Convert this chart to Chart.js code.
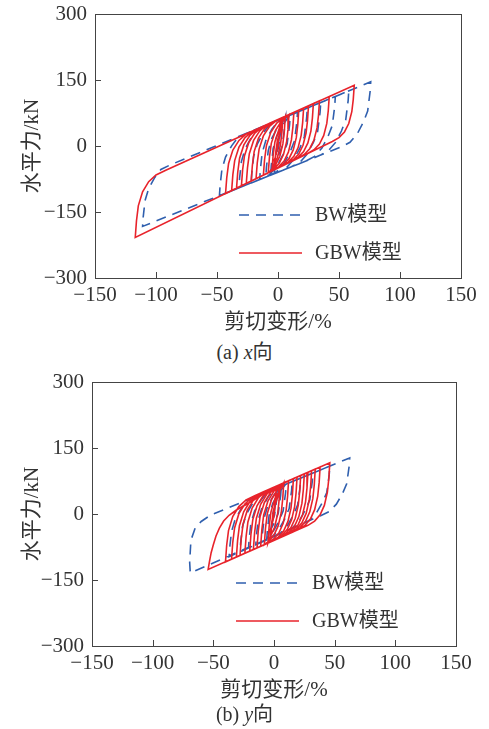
<!DOCTYPE html>
<html>
<head>
<meta charset="utf-8">
<script src="https://cdn.jsdelivr.net/npm/chart.js@4.4.0/dist/chart.umd.min.js"></script>
<style>
  body { margin: 0; background: #fff; width: 489px; height: 729px; position: relative; overflow: hidden;
         font-family: "Liberation Serif", "Noto Sans CJK SC", serif; color: #333; }
  .box { position: absolute; left: 0; width: 489px; height: 340px; }
  .cap { position: absolute; left: 0; width: 489px; text-align: center; font-size: 20px; line-height: 24px; }
</style>
</head>
<body>
<div class="box" style="top:0"><canvas id="chartX"></canvas></div>
<div class="cap" style="top:340px">(a) <i>x</i>向</div>
<div class="box" style="top:368px"><canvas id="chartY"></canvas></div>
<div class="cap" style="top:702px">(b) <i>y</i>向</div>
<script>
// ejes
const xTicks = [-150, -100, -50, 0, 50, 100, 150];
const yTicks = [-300, -150, 0, 150, 300];
const seriesNames = ['BW模型', 'GBW模型'];

// (a) x向 - GBW (rojo)
const gbwX = [[0,0],
  [2,62.5],[1.2,29.0],[0,-0.5],[-2.5,-28.7],[-3,-54.1],[-2,-18.7],[-0.5,12.4],[3,42.2],
  [4,65],[3.2,31.5],[2,2.1],[-0.5,-26.1],[-4,-46.1],[-5,-56.8],[-4,-21.4],[-2.5,9.8],[1,39.6],
  [6,67.5],[5.2,34.1],[4,4.7],[1.5,-23.4],[-2,-43.5],[-6.5,-56.8],[-8,-60.8],[-7,-25.3],[-5.5,6.0],[-2,35.8],[3,57.1],
  [9,71.3],[8.2,37.9],[7,8.6],[4.5,-19.4],[1,-39.4],[-3.5,-52.8],[-9,-62.2],[-12,-66.2],[-11,-30.6],[-9.5,0.8],[-6,30.7],[-1,52.0],[5,66.3],
  [13,76.3],[12.2,43.0],[11,13.8],[8.5,-14.1],[5,-34.1],[0.5,-47.4],[-5,-56.8],[-18,-74.3],[-17,-38.5],[-15.5,-7.1],[-12,23.0],[-7,44.4],[-1,58.7],[7,68.8],
  [17,81.3],[16.2,48.1],[15,19.0],[12.5,-8.9],[9,-28.8],[4.5,-42.0],[-1,-51.4],[-22,-79.7],[-21,-43.8],[-19.5,-12.3],[-16,17.8],[-11,39.4],[-5,53.7],[3,63.8],
  [21,86.3],[20.2,53.2],[19,24.2],[16.5,-3.6],[13,-23.4],[8.5,-36.6],[3,-46.0],[-26,-85.1],[-25,-49.1],[-23.5,-17.5],[-20,12.7],[-15,34.3],[-9,48.7],[-1,58.8],
  [25,91.3],[24.2,58.3],[23,29.4],[20.5,1.7],[17,-18.1],[12.5,-31.3],[7,-40.6],[-30,-90.5],[-29,-54.4],[-27.5,-22.7],[-24,7.6],[-19,29.2],[-13,43.7],[-5,53.8],
  [29,96.3],[28.2,63.4],[27,34.5],[24.5,6.9],[21,-12.8],[16.5,-25.9],[11,-35.2],[-34,-95.9],[-33,-59.7],[-31.5,-27.9],[-28,2.5],[-23,24.2],[-17,38.6],[-9,48.8],
  [34,102.5],[33.2,69.8],[32,41.0],[29.5,13.5],[26,-6.1],[21.5,-19.2],[16,-28.4],[-38,-101.3],[-37,-65.0],[-35.5,-33.1],[-32,-2.7],[-27,19.1],[-21,33.6],[-13,43.8],
  [42,112.5],[41.2,80.0],[40,51.4],[37.5,24.0],[34,4.5],[29.5,-8.5],[24,-17.6],[-43,-108.1],[-42,-71.7],[-40.5,-39.7],[-37,-9.1],[-32,12.7],[-26,27.3],[-18,37.5],
  [62.5,138.1],[61.7,106.1],[60.5,77.9],[58,51.1],[54.5,31.9],[50,19.1],[44.5,10.1],[-117,-208],[-116,-169.8],[-114.5,-136.1],[-111,-104],[-106,-81.1],[-100,-65.8],[-92,-55],[-20,35]];

// (a) x向 - BW (azul)
const bwX = [[0,0],
  [3,62.1],[2.5,40.4],[0.5,-3.1],[-2.5,-27.8],[-3,-62.8],[-2.5,-41.3],[-1,-2.6],[2,26.0],
  [6,65.5],[5.5,43.8],[3.5,0.3],[0,-24.4],[-5,-50.5],[-6,-66.2],[-5.5,-44.7],[-4,-6.1],[-1,22.6],[4,48.3],[9,66.9],
  [10,70.1],[9.5,48.3],[7.5,4.8],[4,-19.9],[-1,-46.0],[-7,-64.9],[-10,-70.6],[-9.5,-49.1],[-8,-10.5],[-5,18.1],[0,43.8],[5,62.4],[12,72.4],
  [16,77.0],[15.5,55.2],[13.5,11.6],[10,-13.1],[5,-39.3],[-1,-58.2],[-8,-68.4],[-15,-76.2],[-14.5,-54.8],[-13,-16.2],[-10,12.3],[-5,38.0],[0,56.6],[7,66.7],
  [24,86.2],[23.5,64.3],[21.5,20.6],[18,-4.1],[13,-30.4],[7,-49.3],[0,-59.5],[-22,-83.9],[-21.5,-62.5],[-20,-24.0],[-17,4.5],[-12,30.1],[-7,48.6],[0,58.6],
  [35,98.9],[34.5,77.0],[32.5,33.2],[29,8.3],[24,-18.0],[18,-37.0],[11,-47.3],[-32,-95.0],[-31.5,-73.7],[-30,-35.3],[-27,-6.9],[-22,18.7],[-17,37.2],[-10,47.1],
  [47,112.7],[46.5,90.7],[44.5,46.7],[41,21.8],[36,-4.6],[30,-23.6],[23,-34.0],[-48,-112.8],[-47.5,-91.6],[-46,-53.4],[-43,-25.1],[-38,0.4],[-33,18.8],[-26,28.7],
  [58,125.3],[57.5,103.2],[55.5,59.1],[52,34.1],[47,7.6],[41,-11.5],[34,-21.8],[-111,-182.7],[-110.5,-161.8],[-109,-124.3],[-106,-96.5],[-101,-71.5],[-96,-53.4],[-89,-43.8],
  [76,146],[75.5,123.8],[73.5,79.5],[70,54.4],[65,27.8],[59,8.5],[52,-1.8],[30,-26.2]];

// (b) y向 - GBW (rojo)
const gbwY = [[0,0],
  [2,63.4],[1.2,27.7],[0,-3.8],[-2.5,-33.8],[-3,-63.7],[-2,-25.9],[-0.5,7.4],[3,39.2],
  [5,67.1],[4.2,31.4],[3,-0.1],[0.5,-30.1],[-3,-51.5],[-5,-66.1],[-4,-28.3],[-2.5,5.0],[1,36.8],[6,59.5],
  [8,70.7],[7.2,35.0],[6,3.5],[3.5,-26.5],[0,-47.9],[-4.5,-62.2],[-8,-69.8],[-7,-32.0],[-5.5,1.3],[-2,33.1],[3,55.8],[9,70.9],
  [12,75.5],[11.2,39.8],[10,8.3],[7.5,-21.7],[4,-43.1],[-0.5,-57.4],[-6,-67.3],[-11,-73.4],[-10,-35.6],[-8.5,-2.3],[-5,29.5],[0,52.2],[6,67.3],[14,77.9],
  [16,80.4],[15.2,44.7],[14,13.2],[11.5,-16.8],[8,-38.2],[3.5,-52.5],[-2,-62.4],[-14,-77.1],[-13,-39.3],[-11.5,-6.0],[-8,25.8],[-3,48.5],[3,63.6],[11,74.3],
  [19,84.0],[18.2,48.3],[17,16.8],[14.5,-13.2],[11,-34.6],[6.5,-48.9],[1,-58.8],[-17,-80.7],[-16,-42.9],[-14.5,-9.6],[-11,22.2],[-6,44.9],[0,60.0],[8,70.7],
  [22,87.6],[21.2,51.9],[20,20.4],[17.5,-9.6],[14,-31.0],[9.5,-45.3],[4,-55.1],[-20,-84.4],[-19,-46.6],[-17.5,-13.3],[-14,18.5],[-9,41.2],[-3,56.3],[5,67.1],
  [25,91.3],[24.2,55.6],[23,24.1],[20.5,-5.9],[17,-27.3],[12.5,-41.6],[7,-51.5],[-24,-89.3],[-23,-51.5],[-21.5,-18.2],[-18,13.6],[-13,36.3],[-7,51.4],[1,62.2],
  [28,94.9],[27.2,59.2],[26,27.7],[23.5,-2.3],[20,-23.7],[15.5,-38.0],[10,-47.8],[-28,-94.2],[-27,-56.4],[-25.5,-23.1],[-22,8.7],[-17,31.4],[-11,46.5],[-3,57.4],
  [31,98.5],[30.2,62.8],[29,31.3],[26.5,1.3],[23,-20.1],[18.5,-34.4],[13,-44.1],[-31,-97.8],[-30,-60.0],[-28.5,-26.7],[-25,5.1],[-20,27.8],[-14,42.9],[-6,53.7],
  [34,102.1],[33.2,66.4],[32,34.9],[29.5,4.9],[26,-16.5],[21.5,-30.8],[16,-40.5],[-35,-102.7],[-34,-64.9],[-32.5,-31.6],[-29,0.2],[-24,22.9],[-18,38.0],[-10,48.9],
  [38,107.0],[37.2,71.3],[36,39.8],[33.5,9.8],[30,-11.6],[25.5,-25.9],[20,-35.6],[-40,-108.8],[-39,-71.0],[-37.5,-37.7],[-34,-5.9],[-29,16.8],[-23,31.9],[-15,42.9],
  [46,116.7],[45.2,81.0],[44,49.5],[41.5,19.5],[38,-1.9],[33.5,-16.2],[28,-25.8],[-54.3,-126.2],
  [-53.2,-108],[-51.8,-88],[-50,-70],[-47.8,-50],[-45,-32],[-41.5,-16],[-37,-3],[-31,9],[-24,20],[-16,33],[-8,48],[0,61],[10,73.1]];

// (b) y向 - BW (azul)
const bwY = [[0,0],
  [3,60.1],[2.5,39.5],[0.5,-1.7],[-2.5,-25.0],[-3,-55.0],[-2.5,-35.0],[-1,1.0],[2,27.6],
  [6,63.5],[5.5,42.9],[3.5,1.8],[0,-21.4],[-5,-46.1],[-6,-58.7],[-5.5,-38.7],[-4,-2.6],[-1,24.1],[4,48.2],[9,65.5],
  [10,68.0],[9.5,47.5],[7.5,6.5],[4,-16.7],[-1,-41.3],[-7,-59.0],[-10,-63.7],[-9.5,-43.6],[-8,-7.4],[-5,19.4],[0,43.5],[5,60.9],[12,70.3],
  [15,73.7],[14.5,53.3],[12.5,12.5],[9,-10.7],[4,-35.2],[-2,-52.9],[-9,-62.4],[-15,-69.8],[-14.5,-49.6],[-13,-13.3],[-10,13.6],[-5,37.8],[0,55.3],[7,64.6],
  [22,81.6],[21.5,61.3],[19.5,20.7],[16,-2.3],[11,-26.7],[5,-44.3],[-2,-53.8],[-21,-77.2],[-20.5,-56.9],[-19,-20.5],[-16,6.6],[-11,30.9],[-6,48.4],[1,57.8],
  [32,93.0],[31.5,72.8],[29.5,32.5],[26,9.7],[21,-14.5],[15,-32.0],[8,-41.4],[-28,-85.9],[-27.5,-65.5],[-26,-28.9],[-23,-1.7],[-18,22.7],[-13,40.4],[-6,49.9],
  [46,108.9],[45.5,88.9],[43.5,49.0],[40,26.4],[35,2.5],[29,-14.8],[22,-24.1],[-37,-97.0],[-36.5,-76.5],[-35,-39.6],[-32,-12.2],[-27,12.4],[-22,30.1],[-15,39.7],
  [62.4,127.5],[61.9,107.8],[59.9,68.4],[56.4,46.0],[51.4,22.4],[45.4,5.3],[38.4,-3.9],[-69,-134],[-69.5,-110],[-68.5,-60],[-65,-32],[-60,-17],[-52,-2],[-40,11.3],[-10,45.4]];

const FONT = '"Liberation Serif", "Noto Sans CJK SC", serif';
const RED = '#e8232b';
const BLUE = '#2f5fae';
const DASH = [10, 7];

const toXY = arr => arr.map(p => ({ x: p[0], y: p[1] }));
const minus = v => String(v).replace('-', '\u2212');

// marco, marcas hacia dentro y leyenda dentro del gráfico
const marcoPlugin = {
    id: 'marco',
    afterDatasetsDraw(chart) {
        const { ctx, chartArea: a, scales } = chart;
        ctx.save();
        ctx.strokeStyle = '#444';
        ctx.lineWidth = 1;
        ctx.strokeRect(Math.round(a.left) + 0.5, Math.round(a.top) + 0.5,
                       Math.round(a.right - a.left), Math.round(a.bottom - a.top));
        ctx.beginPath();
        xTicks.forEach(v => {
            const px = Math.round(scales.x.getPixelForValue(v)) + 0.5;
            ctx.moveTo(px, a.bottom);
            ctx.lineTo(px, a.bottom - 6);
        });
        yTicks.forEach(v => {
            const py = Math.round(scales.y.getPixelForValue(v)) + 0.5;
            ctx.moveTo(a.left, py);
            ctx.lineTo(a.left + 6, py);
        });
        ctx.stroke();

        // leyenda
        const lx = a.left + 144, tx = a.left + 220;
        const rows = [{ y: a.top + 201, color: BLUE, dash: DASH, text: seriesNames[0] },
                      { y: a.top + 239, color: RED, dash: [], text: seriesNames[1] }];
        ctx.lineWidth = 1.6;
        ctx.font = '20px ' + FONT;
        ctx.textBaseline = 'middle';
        ctx.fillStyle = '#333';
        rows.forEach(r => {
            ctx.strokeStyle = r.color;
            ctx.setLineDash(r.dash);
            ctx.beginPath();
            ctx.moveTo(lx, r.y);
            ctx.lineTo(lx + 63, r.y);
            ctx.stroke();
            ctx.setLineDash([]);
            ctx.fillText(r.text, tx, r.y + 1);
        });
        ctx.restore();
    }
};

function crearGrafico(id, rojo, azul, anchoY, margenDer) {
    const ctx = document.getElementById(id).getContext('2d');
    return new Chart(ctx, {
        type: 'scatter',
        data: {
            datasets: [{
                label: seriesNames[1],
                data: toXY(rojo),
                showLine: true,
                borderColor: RED,
                borderWidth: 1.6,
                pointRadius: 0,
                tension: 0
            }, {
                label: seriesNames[0],
                data: toXY(azul),
                showLine: true,
                borderColor: BLUE,
                borderWidth: 1.6,
                borderDash: DASH,
                pointRadius: 0,
                tension: 0
            }]
        },
        options: {
            responsive: true,
            maintainAspectRatio: false,
            animation: false,
            layout: { padding: { top: 14, right: margenDer, left: 0, bottom: 0 } },
            plugins: { legend: { display: false }, tooltip: { enabled: false } },
            scales: {
                x: {
                    type: 'linear', min: -150, max: 150,
                    afterBuildTicks: s => { s.ticks = xTicks.map(v => ({ value: v })); },
                    afterFit: s => { s.height = 62; s.paddingLeft = 0; s.paddingRight = 0; },
                    grid: { display: false, drawTicks: false },
                    border: { display: false },
                    ticks: { font: { family: FONT, size: 21 }, color: '#333', padding: 5,
                             maxRotation: 0, autoSkip: false, callback: minus },
                    title: { display: true, text: '剪切变形/%', color: '#333',
                             font: { family: FONT, size: 21 }, padding: { top: 0, bottom: 5 } }
                },
                y: {
                    type: 'linear', min: -300, max: 300,
                    afterBuildTicks: s => { s.ticks = yTicks.map(v => ({ value: v })); },
                    // el área del gráfico la fija el padding, no la etiqueta de 300
                    afterFit: s => { s.width = anchoY; s.paddingTop = 0; s.paddingBottom = 0; },
                    grid: { display: false, drawTicks: false },
                    border: { display: false },
                    ticks: { font: { family: FONT, size: 21 }, color: '#333', padding: 8,
                             autoSkip: false, callback: minus },
                    title: { display: true, text: '水平力/kN', color: '#333',
                             font: { family: FONT, size: 21 }, padding: { top: 20, bottom: 0 } }
                }
            }
        },
        plugins: [marcoPlugin]
    });
}

crearGrafico('chartX', gbwX, bwX, 95, 28);
crearGrafico('chartY', gbwY, bwY, 92, 33);
</script>
</body>
</html>
